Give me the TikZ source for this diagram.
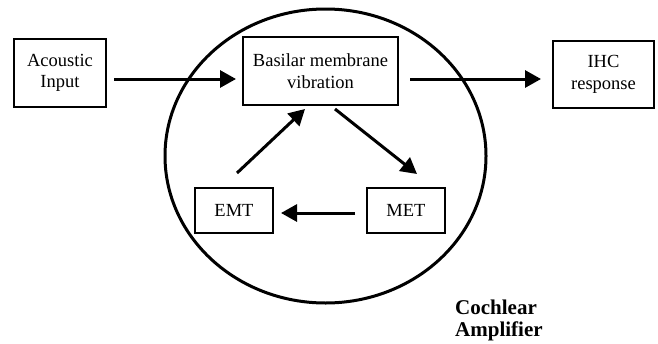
\documentclass[tikz,border=0pt]{standalone}
\usepackage{fontspec}
\setmainfont{Liberation Serif}
\usetikzlibrary{arrows.meta,shapes.geometric}
\begin{document}
\begin{tikzpicture}[x=1pt,y=-1pt,
  blk/.style={draw,line width=2pt,rectangle,inner sep=0pt,align=center,
    font=\fontsize{18.5}{21.5}\selectfont},
  arr/.style={line width=3pt,-{Triangle[length=16pt,width=17pt]}},
  ring/.style={draw,line width=3pt}]
\useasboundingbox (0,0) rectangle (658,343);
\node[blk,minimum width=92pt,minimum height=68pt] (acoustic) at (60,73) {Acoustic\\Input};
\node[blk,minimum width=155pt,minimum height=68pt] (basilar) at (320.5,71) {Basilar membrane\\vibration};
\node[blk,minimum width=101pt,minimum height=67pt] (ihc) at (603.5,74.5) {IHC\\response};
\node[blk,minimum width=78pt,minimum height=45pt] (emt) at (234,210.5) {EMT};
\node[blk,minimum width=78pt,minimum height=45pt] (met) at (406,210.5) {MET};
\node[ring,ellipse,minimum width=321pt,minimum height=294pt,inner sep=0pt] (amp) at (325.5,156) {};
\node[anchor=north west,align=left,inner sep=0pt,font=\fontsize{21}{22}\selectfont\bfseries] (label) at (455,300) {Cochlear\\Amplifier};
\coordinate (a1) at ([xshift=7pt,yshift=-6pt]acoustic.east);
\draw[arr] (a1) -- ([xshift=-6pt]a1 -| basilar.west);
\coordinate (b1) at ([xshift=11pt,yshift=-8pt]basilar.east);
\draw[arr] (b1) -- ([xshift=-11pt]b1 -| ihc.west);
\coordinate (m1) at ([xshift=-11pt,yshift=-2.5pt]met.west);
\draw[arr] (m1) -- ([xshift=7pt]m1 -| emt.east);
\draw[arr] ([xshift=3pt,yshift=14pt]emt.north) -- ([xshift=-15.5pt,yshift=-3pt]basilar.south);
\draw[arr] ([xshift=14.5pt,yshift=-3pt]basilar.south) -- ([xshift=11pt,yshift=13pt]met.north);
\end{tikzpicture}
\end{document}
